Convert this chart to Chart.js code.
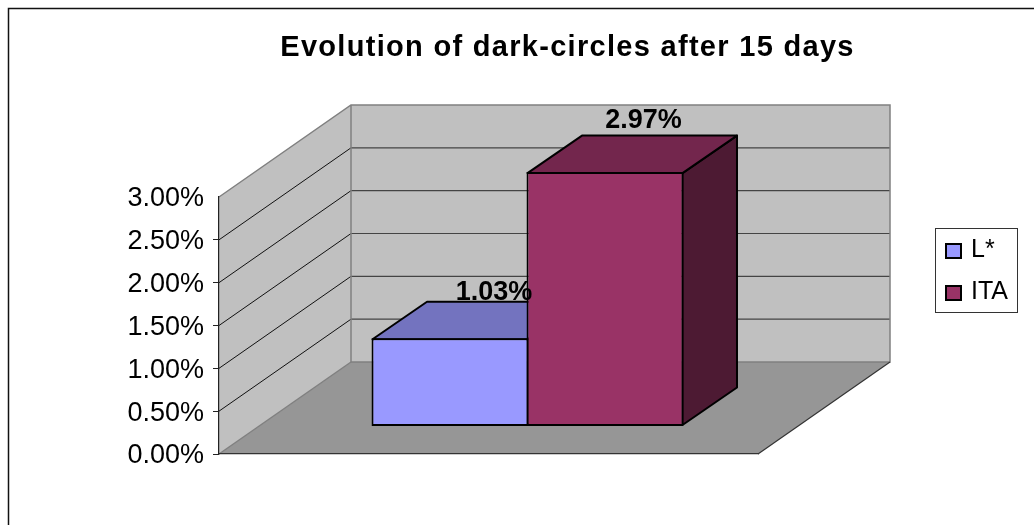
<!DOCTYPE html>
<html>
<head>
<meta charset="utf-8">
<title>Evolution of dark-circles after 15 days</title>
<script src="https://cdn.jsdelivr.net/npm/chart.js@4"></script>
<style>
    html, body { margin: 0; padding: 0; background: #fff; }
    canvas { display: block; }
</style>
</head>
<body>
<canvas id="darkCirclesChart" width="1034" height="525"></canvas>
<script>
const titleText = 'Evolution of dark-circles after 15 days';
const categories = [''];
const seriesNames = ['L*', 'ITA'];
const lValues = [1.03];
const itaValues = [2.97];
const tickLabels = ['0.00%', '0.50%', '1.00%', '1.50%', '2.00%', '2.50%', '3.00%'];

const FONT = '"Liberation Sans", Arial, sans-serif';
const faceColors = [
    { front: '#9999ff', top: '#7373bf', side: '#4d4d80' },
    { front: '#993366', top: '#73264d', side: '#4d1a33' }
];

// projection of the floor depth, and where the bars stand on it
const WALL_DX = 132, WALL_DY = -92;
const BAR_SHIFT_X = 39, BAR_SHIFT_Y = -27.5;
const BAR_DX = 54.5, BAR_DY = -37.5;
// value label anchor relative to the top of each front face
const labelOffsets = [{ x: 44, y: -38 }, { x: 38.5, y: -44 }];

function polygon(ctx, points, fill, stroke, lineWidth) {
    ctx.beginPath();
    points.forEach((p, i) => i ? ctx.lineTo(p[0], p[1]) : ctx.moveTo(p[0], p[1]));
    ctx.closePath();
    if (fill) {
        ctx.fillStyle = fill;
        ctx.fill();
    }
    if (stroke) {
        ctx.strokeStyle = stroke;
        ctx.lineWidth = lineWidth;
        ctx.lineJoin = 'round';
        ctx.stroke();
    }
}

function line(ctx, points, color, width) {
    ctx.beginPath();
    points.forEach((p, i) => i ? ctx.lineTo(p[0], p[1]) : ctx.moveTo(p[0], p[1]));
    ctx.strokeStyle = color;
    ctx.lineWidth = width;
    ctx.stroke();
}

// frame, walls, floor and grid lines behind the axis
const wallsPlugin = {
    id: 'walls',
    beforeDraw(chart) {
        const { ctx, chartArea: { left, right, top, bottom }, scales: { y } } = chart;
        const dx = WALL_DX, dy = WALL_DY;
        ctx.save();
        line(ctx, [[8.5, 525], [8.5, 8.5], [1034, 8.5]], '#111', 1.5);
        polygon(ctx, [[left + dx, top + dy], [right + dx, top + dy], [right + dx, bottom + dy], [left + dx, bottom + dy]], '#c0c0c0');
        polygon(ctx, [[left, top], [left + dx, top + dy], [left + dx, bottom + dy], [left, bottom]], '#c0c0c0');
        polygon(ctx, [[left, bottom], [right, bottom], [right + dx, bottom + dy], [left + dx, bottom + dy]], '#969696');

        y.ticks.forEach(tick => {
            if (tick.value === 0 || tick.value === y.max) return;
            const py = y.getPixelForValue(tick.value);
            line(ctx, [[left, py], [left + dx, py + dy]], '#111', 1);
            line(ctx, [[left + dx, py + dy], [right + dx, py + dy]], '#444', 1.2);
        });

        line(ctx, [[left, top], [left + dx, top + dy], [right + dx, top + dy], [right + dx, bottom + dy], [left + dx, bottom + dy], [left + dx, top + dy]], '#808080', 1.5);
        line(ctx, [[left, bottom], [left + dx, bottom + dy]], '#808080', 1.5);
        line(ctx, [[right, bottom], [right + dx, bottom + dy]], '#333', 1.2);
        ctx.restore();
    }
};

// bars are pushed back onto the floor; top and side faces are all laid down before any front
const boxPlugin = {
    id: 'boxes',
    beforeDatasetsDraw(chart) {
        const { ctx } = chart;
        ctx.save();
        ctx.translate(BAR_SHIFT_X, BAR_SHIFT_Y);
        chart.data.datasets.forEach((ds, i) => {
            const colors = faceColors[i];
            chart.getDatasetMeta(i).data.forEach(bar => {
                const l = bar.x - bar.width / 2 + 1, r = bar.x + bar.width / 2 - 1;
                const t = bar.y + 1, b = bar.base - 1;
                polygon(ctx, [[r, t], [r + BAR_DX, t + BAR_DY], [r + BAR_DX, b + BAR_DY], [r, b]], colors.side, '#000', 2);
                polygon(ctx, [[l, t], [l + BAR_DX, t + BAR_DY], [r + BAR_DX, t + BAR_DY], [r, t]], colors.top, '#000', 2);
            });
        });
        ctx.restore();
    },
    beforeDatasetDraw(chart) {
        chart.ctx.save();
        chart.ctx.translate(BAR_SHIFT_X, BAR_SHIFT_Y);
    },
    afterDatasetDraw(chart) {
        chart.ctx.restore();
    },
    afterDatasetsDraw(chart) {
        const { ctx } = chart;
        ctx.save();
        ctx.font = 'bold 27px ' + FONT;
        ctx.fillStyle = '#000';
        ctx.textAlign = 'center';
        ctx.textBaseline = 'alphabetic';
        chart.data.datasets.forEach((ds, i) => {
            chart.getDatasetMeta(i).data.forEach((bar, j) => {
                const text = ds.data[j].toFixed(2) + '%';
                ctx.fillText(text, bar.x + BAR_SHIFT_X + labelOffsets[i].x, bar.y + BAR_SHIFT_Y + labelOffsets[i].y);
            });
        });
        ctx.restore();
    }
};

const headerPlugin = {
    id: 'header',
    afterDraw(chart) {
        const { ctx } = chart;
        ctx.save();
        ctx.font = 'bold 29px ' + FONT;
        ctx.letterSpacing = '1.3px';
        ctx.fillStyle = '#000';
        ctx.textAlign = 'center';
        ctx.fillText(titleText, 567.5, 56);
        ctx.letterSpacing = '0px';

        // legend box
        ctx.strokeStyle = '#333';
        ctx.lineWidth = 1;
        ctx.strokeRect(935.5, 228.5, 82, 84);
        ctx.textAlign = 'left';
        ctx.font = '25px ' + FONT;
        seriesNames.forEach((name, i) => {
            const top = 244 + i * 42;
            ctx.fillStyle = faceColors[i].front;
            ctx.strokeStyle = '#000';
            ctx.lineWidth = 2;
            ctx.fillRect(946, top, 15, 14);
            ctx.strokeRect(946, top, 15, 14);
            ctx.fillStyle = '#000';
            ctx.fillText(name, 971, top + 13);
        });
        ctx.restore();
    }
};

new Chart(document.getElementById('darkCirclesChart').getContext('2d'), {
    type: 'bar',
    data: {
        labels: categories,
        datasets: [
            { label: seriesNames[0], data: lValues, backgroundColor: faceColors[0].front },
            { label: seriesNames[1], data: itaValues, backgroundColor: faceColors[1].front }
        ]
    },
    options: {
        responsive: false,
        animation: false,
        layout: { padding: { left: 0, top: 197, right: 276, bottom: 71 } },
        datasets: {
            bar: {
                borderColor: '#000',
                borderWidth: 2,
                borderSkipped: false,
                categoryPercentage: 0.5751,
                barPercentage: 1.0129,
                clip: false
            }
        },
        plugins: {
            legend: { display: false },
            title: { display: false },
            tooltip: { enabled: false }
        },
        scales: {
            x: {
                grid: { display: false },
                border: { color: '#333', width: 1.2 },
                ticks: { display: false },
                afterFit: scale => { scale.height = 0; }
            },
            y: {
                min: 0,
                max: 3,
                grid: {
                    drawOnChartArea: false,
                    tickLength: 6,
                    tickColor: ctx => ctx.index === tickLabels.length - 1 ? 'rgba(0,0,0,0)' : '#222'
                },
                border: { color: '#222', width: 1.2 },
                ticks: {
                    stepSize: 0.5,
                    padding: 9,
                    labelOffset: 2,
                    color: '#000',
                    font: { family: FONT, size: 27 },
                    callback: (value, index) => tickLabels[index]
                },
                afterFit: scale => { scale.width = 219; }
            }
        }
    },
    plugins: [wallsPlugin, boxPlugin, headerPlugin]
});
</script>
</body>
</html>
